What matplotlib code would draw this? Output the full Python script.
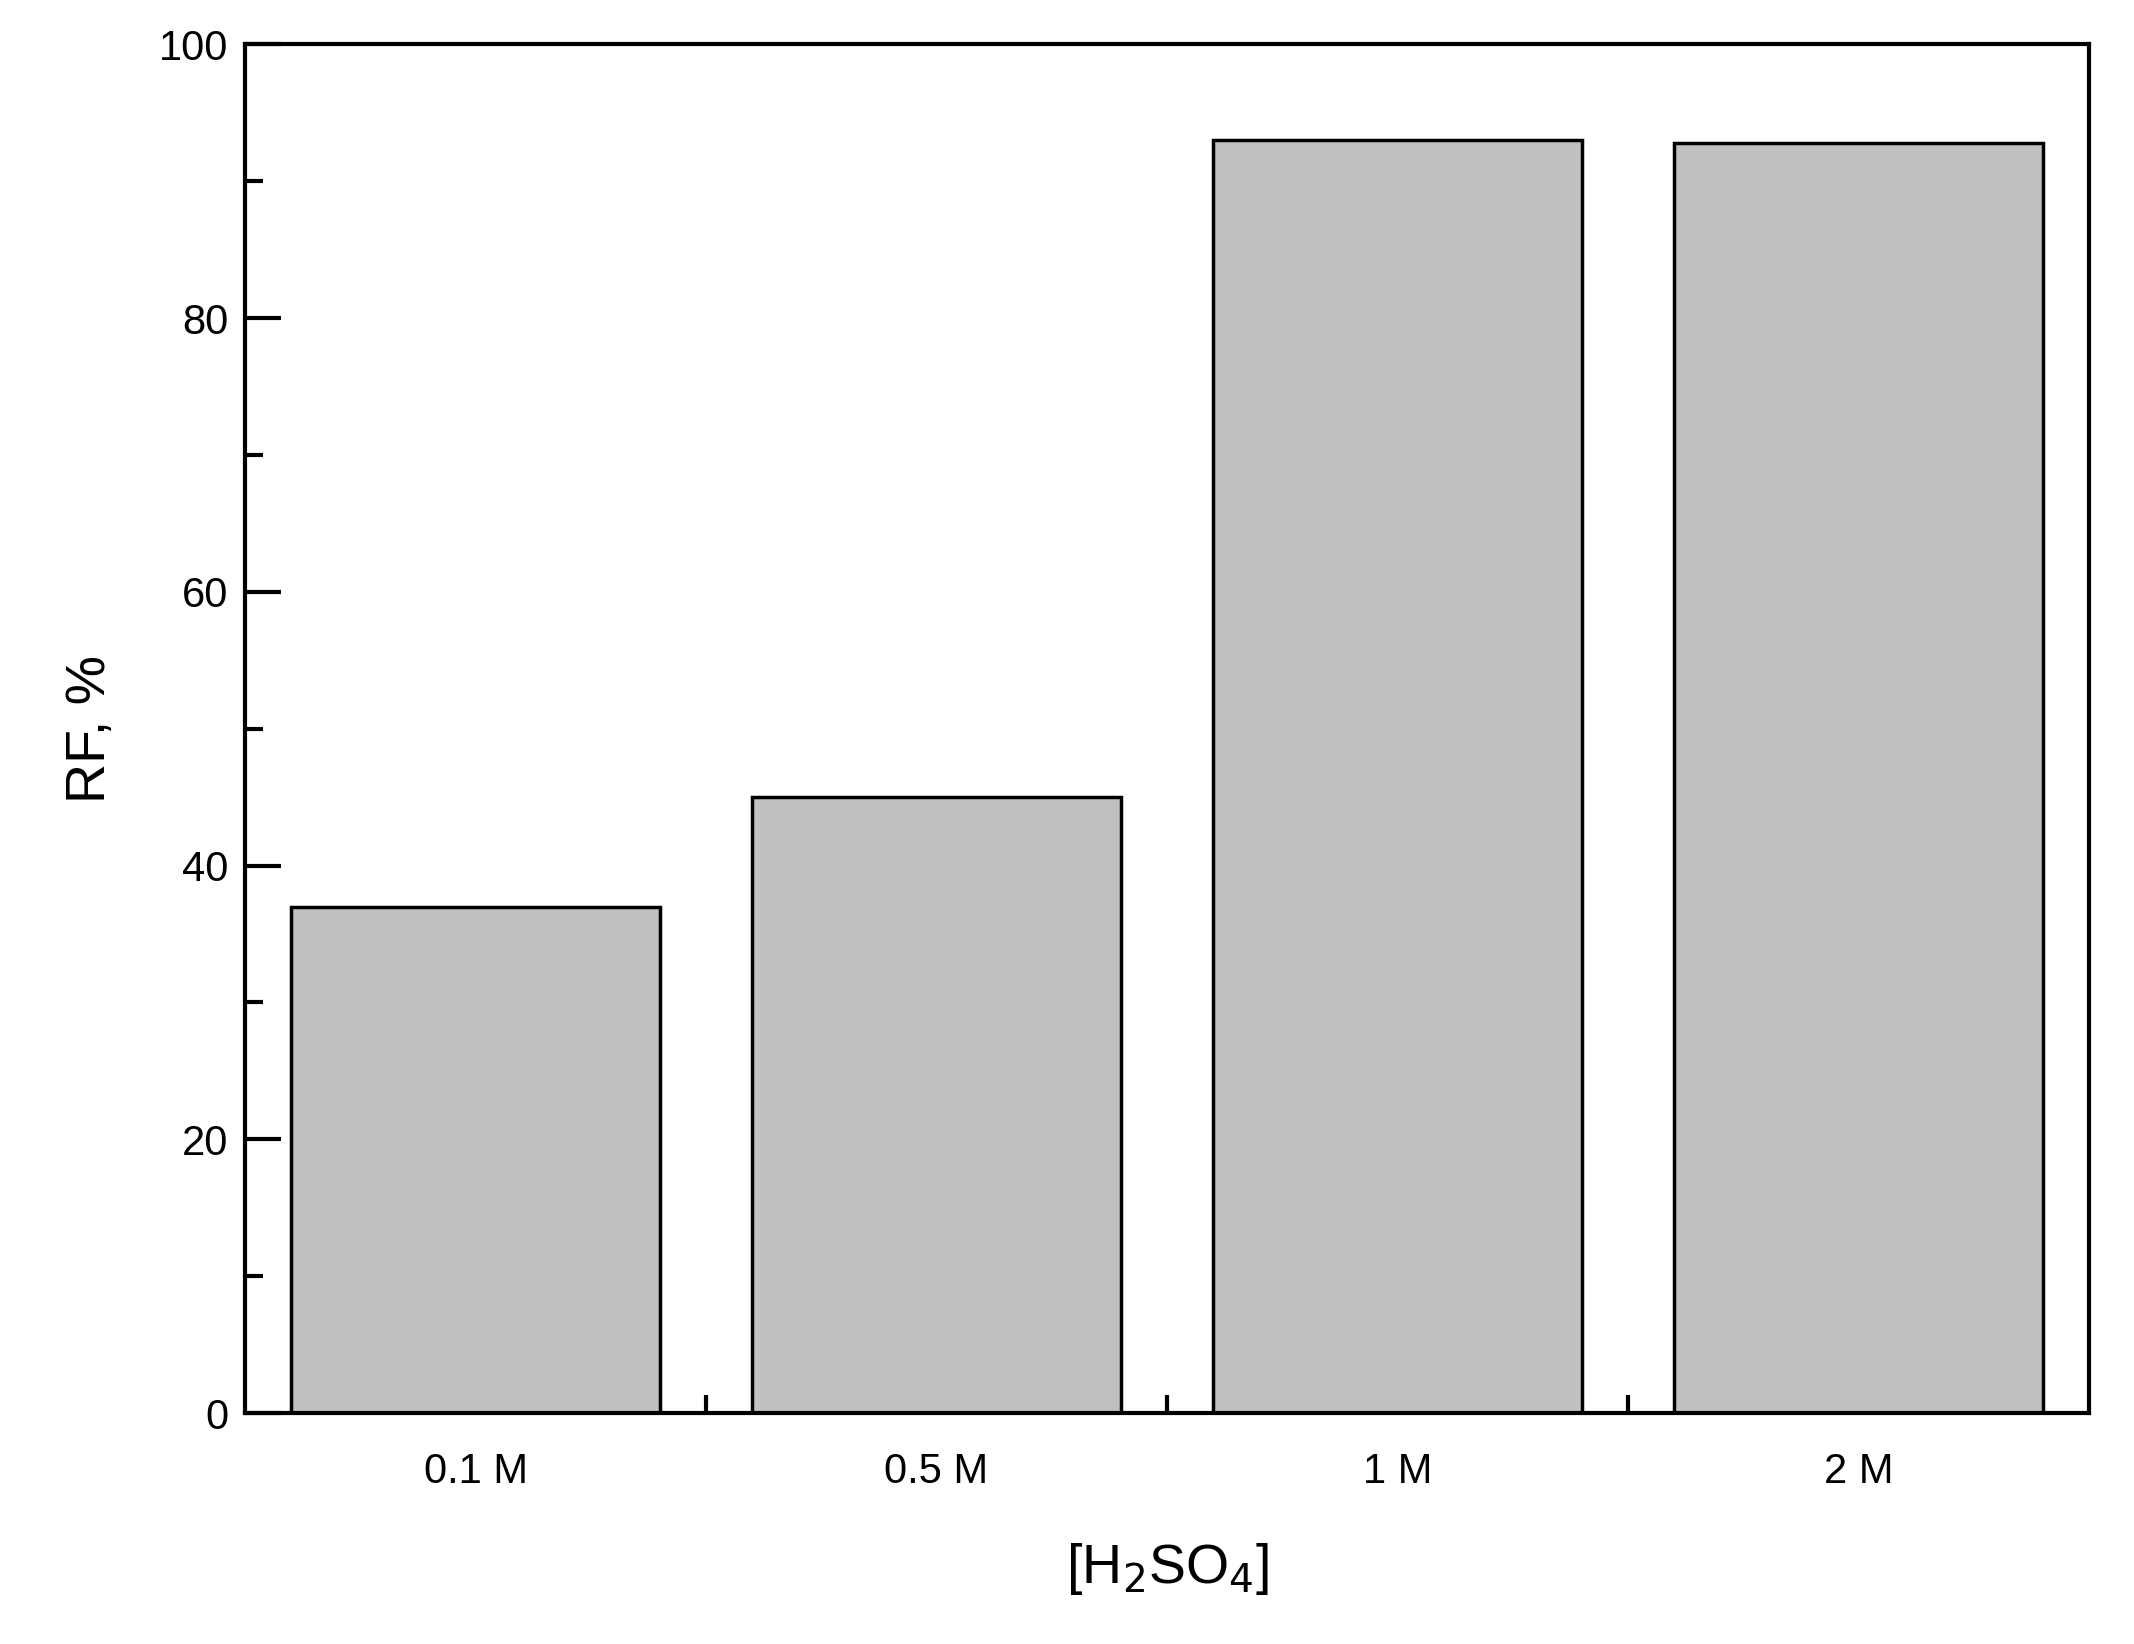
import matplotlib
matplotlib.use("Agg")
import matplotlib.pyplot as plt
from matplotlib.ticker import MultipleLocator, FixedLocator

categories = ["0.1 M", "0.5 M", "1 M", "2 M"]
values = [37.0, 45.0, 93.0, 92.8]

plt.rcParams['font.family'] = ['Liberation Sans', 'DejaVu Sans']
fig = plt.figure(figsize=(21.34, 16.44), dpi=100)
ax = fig.add_axes([0.1148, 0.1405, 0.979-0.1148, 0.973-0.1405])
x = list(range(len(categories)))
ax.bar(x, values, width=0.8, color='#c0c0c0', edgecolor='black', linewidth=2.5)
ax.set_xlim(-0.5, 3.5)
ax.set_ylim(0, 100)
ax.set_xticks(x)
ax.set_xticklabels(categories)
ax.xaxis.set_minor_locator(FixedLocator([0.5, 1.5, 2.5]))
ax.yaxis.set_major_locator(MultipleLocator(20))
ax.yaxis.set_minor_locator(MultipleLocator(10))
ax.tick_params(axis='y', which='major', direction='in', length=26, width=3, labelsize=30, pad=12)
ax.tick_params(axis='y', which='minor', direction='in', length=13, width=3)
ax.tick_params(axis='x', which='major', length=0, labelsize=30, pad=28)
ax.tick_params(axis='x', which='minor', direction='in', length=13, width=3)
for s in ax.spines.values():
    s.set_linewidth(3)
ax.set_ylabel("RF, %", fontsize=40, labelpad=30)
ax.set_xlabel(r"[H$_2$SO$_4$]", fontsize=40, labelpad=35)
fig.savefig("out.png", dpi=100)
